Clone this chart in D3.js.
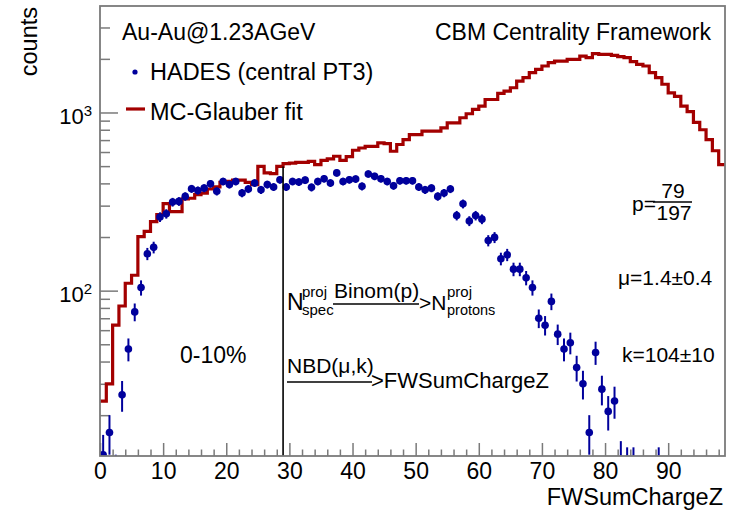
<!DOCTYPE html>
<html>
<head>
<meta charset="utf-8">
<script src="https://cdn.jsdelivr.net/npm/d3@7"></script>
<style>
  body { margin: 0; background: #fff; }
  text { font-family: "Liberation Sans", Arial, sans-serif; fill: #000; }
</style>
</head>
<body>
<div id="chart"></div>
<script>
// MC-Glauber fit histogram, one value per unit bin of FWSumChargeZ (0..98)
const mcGlauber = [24, 30, 64, 82, 110, 122, 201, 215, 244, 267,
    308, 278, 278, 327, 330, 346, 353, 372, 382, 405,
    410, 417, 417, 405, 394, 498, 458, 454, 498, 517,
    520, 525, 525, 532, 510, 538, 549, 568, 538, 565,
    614, 632, 646, 646, 675, 668, 606, 661, 705, 752,
    752, 785, 785, 785, 820, 875, 875, 934, 984, 1040,
    1085, 1183, 1183, 1279, 1318, 1377, 1500, 1568, 1673, 1746,
    1823, 1904, 1944, 1944, 1986, 1986, 2074, 2031, 2139, 2120,
    2120, 2094, 2060, 2031, 1930, 1860, 1823, 1673, 1568, 1440,
    1290, 1230, 1085, 1010, 880, 800, 705, 610, 510];

// HADES (central PT3) counts and their errors, same bins
const hades = [12, 16, 9, 26, 47, 76, 104, 161, 175, 259,
    270, 314, 317, 338, 373, 365, 376, 398, 361, 410,
    394, 410, 353, 372, 402, 368, 394, 382, 419, 382,
    410, 407, 417, 380, 410, 425, 402, 458, 410, 419,
    423, 385, 452, 438, 425, 410, 388, 414, 414, 414,
    382, 368, 376, 338, 353, 372, 264, 307, 246, 264,
    252, 191, 199, 151, 159, 132, 132, 118, 104, 70,
    64, 87, 57, 47, 51, 37, 30, 16, 45, 28,
    21, 24, 11, 10, 10, 0, 0, 0, 10];
const hadesErr = [3.5, 4, 3, 5.1, 6.9, 8.7, 10.2, 12.7, 13.2, 16.1,
    16.4, 17.7, 17.8, 18.4, 19.3, 19.1, 19.4, 19.9, 19, 20.2,
    19.8, 20.2, 18.8, 19.3, 20, 19.2, 19.8, 19.5, 20.5, 19.5,
    20.2, 20.2, 20.4, 19.5, 20.2, 20.6, 20, 21.4, 20.2, 20.5,
    20.6, 19.6, 21.3, 20.9, 20.6, 20.2, 19.7, 20.3, 20.3, 20.3,
    19.5, 19.2, 19.4, 18.4, 18.8, 19.3, 16.2, 17.5, 15.7, 16.2,
    15.9, 13.8, 14.1, 12.3, 12.6, 11.5, 11.5, 10.9, 10.2, 8.4,
    8, 9.3, 7.5, 6.9, 7.1, 6.1, 5.5, 4, 6.7, 5.3,
    4.6, 4.9, 3.3, 3.2, 3.2, 0, 0, 0, 3.2];

const xMajor = [0, 10, 20, 30, 40, 50, 60, 70, 80, 90];
const yMajor = [100, 1000];
const yMinor = [20, 30, 40, 50, 60, 70, 80, 90, 200, 300, 400, 500, 600, 700, 800, 900, 2000, 3000];
const cutValue = 29; // 0-10% centrality boundary

const width = 740, height = 510;
const margin = { top: 6, right: 15, bottom: 54, left: 100 };

const svg = d3.select("#chart").append("svg")
    .attr("width", width)
    .attr("height", height);

const xScale = d3.scaleLinear()
    .domain([0, mcGlauber.length])
    .range([margin.left, width - margin.right]);

const yScale = d3.scaleLog()
    .domain([11.8, 3960])
    .range([height - margin.bottom, margin.top]);

const frameColor = "#7a7a7a";

svg.append("clipPath").attr("id", "plot")
    .append("rect")
    .attr("x", margin.left).attr("y", margin.top)
    .attr("width", width - margin.left - margin.right)
    .attr("height", height - margin.top - margin.bottom);

// x axis, major and minor ticks pointing inwards
const xAxis = svg.append("g")
    .attr("transform", "translate(0," + (height - margin.bottom) + ")")
    .call(d3.axisBottom(xScale).tickValues(xMajor).tickSizeInner(-13).tickSizeOuter(0).tickPadding(7));
xAxis.selectAll("text").attr("font-size", 23);
svg.append("g")
    .attr("transform", "translate(0," + (height - margin.bottom) + ")")
    .call(d3.axisBottom(xScale)
        .tickValues(d3.range(2, 99, 2).filter(d => d % 10 !== 0))
        .tickSizeInner(-6.5).tickSizeOuter(0).tickFormat(""));

// y axis, log scale with 10^n labels
const yAxis = svg.append("g")
    .attr("transform", "translate(" + margin.left + ",0)")
    .call(d3.axisLeft(yScale).tickValues(yMajor).tickSizeInner(-18).tickSizeOuter(0).tickPadding(8)
        .tickFormat(() => "10"));
yAxis.selectAll("text").attr("font-size", 22).attr("dy", "0.5em")
    .append("tspan")
    .attr("dy", "-0.55em")
    .attr("font-size", 15)
    .text(d => Math.round(Math.log10(d)));
svg.append("g")
    .attr("transform", "translate(" + margin.left + ",0)")
    .call(d3.axisLeft(yScale).tickValues(yMinor).tickSizeInner(-10).tickSizeOuter(0).tickFormat(""));

svg.selectAll(".domain").remove();
svg.selectAll(".tick line").attr("stroke", frameColor).attr("stroke-width", 1.5);

// MC-Glauber histogram
const steps = mcGlauber.map((v, i) => [i, v]).concat([[mcGlauber.length, mcGlauber[mcGlauber.length - 1]]]);
svg.append("path")
    .datum(steps)
    .attr("clip-path", "url(#plot)")
    .attr("fill", "none")
    .attr("stroke", "#a30000")
    .attr("stroke-width", 3.2)
    .attr("d", d3.line()
        .x(d => xScale(d[0]))
        .y(d => yScale(d[1]))
        .curve(d3.curveStepAfter));

// HADES points with error bars
const pts = hades.map((v, i) => ({ bin: i, v: v, e: hadesErr[i] })).filter(d => d.v > 0);
const dataG = svg.append("g").attr("clip-path", "url(#plot)");
dataG.selectAll(".err")
    .data(pts)
    .enter()
    .append("line")
    .attr("class", "err")
    .attr("x1", d => xScale(d.bin + 0.5))
    .attr("x2", d => xScale(d.bin + 0.5))
    .attr("y1", d => yScale(Math.max(d.v - d.e, 1)))
    .attr("y2", d => yScale(d.v + d.e))
    .attr("stroke", "#00009c")
    .attr("stroke-width", 2);
dataG.selectAll(".pt")
    .data(pts)
    .enter()
    .append("circle")
    .attr("class", "pt")
    .attr("cx", d => xScale(d.bin + 0.5))
    .attr("cy", d => yScale(d.v))
    .attr("r", 3.8)
    .attr("fill", "#00009c");

// centrality cut line
svg.append("line")
    .attr("x1", xScale(cutValue)).attr("x2", xScale(cutValue))
    .attr("y1", yScale.range()[0]).attr("y2", yScale(mcGlauber[cutValue - 1]))
    .attr("stroke", "#000")
    .attr("stroke-width", 1.6);

// frame
svg.append("rect")
    .attr("x", margin.left).attr("y", margin.top)
    .attr("width", width - margin.left - margin.right)
    .attr("height", height - margin.top - margin.bottom)
    .attr("fill", "none")
    .attr("stroke", frameColor)
    .attr("stroke-width", 1.8);

// axis titles
svg.append("text")
    .attr("transform", "translate(37,7) rotate(-90)")
    .attr("text-anchor", "end")
    .attr("font-size", 23.5)
    .text("counts");
svg.append("text")
    .attr("x", 723).attr("y", 505)
    .attr("text-anchor", "end")
    .attr("font-size", 23.5)
    .text("FWSumChargeZ");

// header texts and legend
svg.append("text").attr("x", 122).attr("y", 40).attr("font-size", 23).text("Au-Au@1.23AGeV");
svg.append("text").attr("x", 711).attr("y", 40).attr("text-anchor", "end").attr("font-size", 23)
    .text("CBM Centrality Framework");
svg.append("circle").attr("cx", 135).attr("cy", 72).attr("r", 2.6).attr("fill", "#00009c");
svg.append("text").attr("x", 150).attr("y", 80).attr("font-size", 23.5).text("HADES (central PT3)");
svg.append("line").attr("x1", 126).attr("x2", 145).attr("y1", 109).attr("y2", 109)
    .attr("stroke", "#a30000").attr("stroke-width", 3.2);
svg.append("text").attr("x", 150).attr("y", 120).attr("font-size", 23.5).text("MC-Glauber fit");

// fit parameters
svg.append("text").attr("x", 632).attr("y", 211).attr("font-size", 21).text("p=");
svg.append("text").attr("x", 673).attr("y", 198).attr("text-anchor", "middle").attr("font-size", 21).text("79");
svg.append("line").attr("x1", 653).attr("x2", 692).attr("y1", 202).attr("y2", 202)
    .attr("stroke", "#000").attr("stroke-width", 1.4);
svg.append("text").attr("x", 674).attr("y", 220).attr("text-anchor", "middle").attr("font-size", 21).text("197");
svg.append("text").attr("x", 618).attr("y", 285).attr("font-size", 21).text("μ=1.4±0.4");
svg.append("text").attr("x", 622).attr("y", 362).attr("font-size", 21).text("k=104±10");
svg.append("text").attr("x", 180).attr("y", 363).attr("font-size", 23).text("0-10%");

// model chain
svg.append("text").attr("x", 287).attr("y", 310).attr("font-size", 23).text("N");
svg.append("text").attr("x", 302).attr("y", 297).attr("font-size", 15).text("proj");
svg.append("text").attr("x", 302).attr("y", 315).attr("font-size", 15).text("spec");
svg.append("text").attr("x", 334).attr("y", 298).attr("font-size", 21).text("Binom(p)");
svg.append("line").attr("x1", 333).attr("x2", 419).attr("y1", 304).attr("y2", 304)
    .attr("stroke", "#000").attr("stroke-width", 1.4);
svg.append("text").attr("x", 419).attr("y", 310).attr("font-size", 21).text(">N");
svg.append("text").attr("x", 447).attr("y", 297).attr("font-size", 15).text("proj");
svg.append("text").attr("x", 447).attr("y", 315).attr("font-size", 14.5).text("protons");
svg.append("text").attr("x", 287).attr("y", 373).attr("font-size", 21).text("NBD(μ,k)");
svg.append("line").attr("x1", 287).attr("x2", 372).attr("y1", 382).attr("y2", 382)
    .attr("stroke", "#000").attr("stroke-width", 1.4);
svg.append("text").attr("x", 371).attr("y", 388).attr("font-size", 22).text(">FWSumChargeZ");
</script>
</body>
</html>
